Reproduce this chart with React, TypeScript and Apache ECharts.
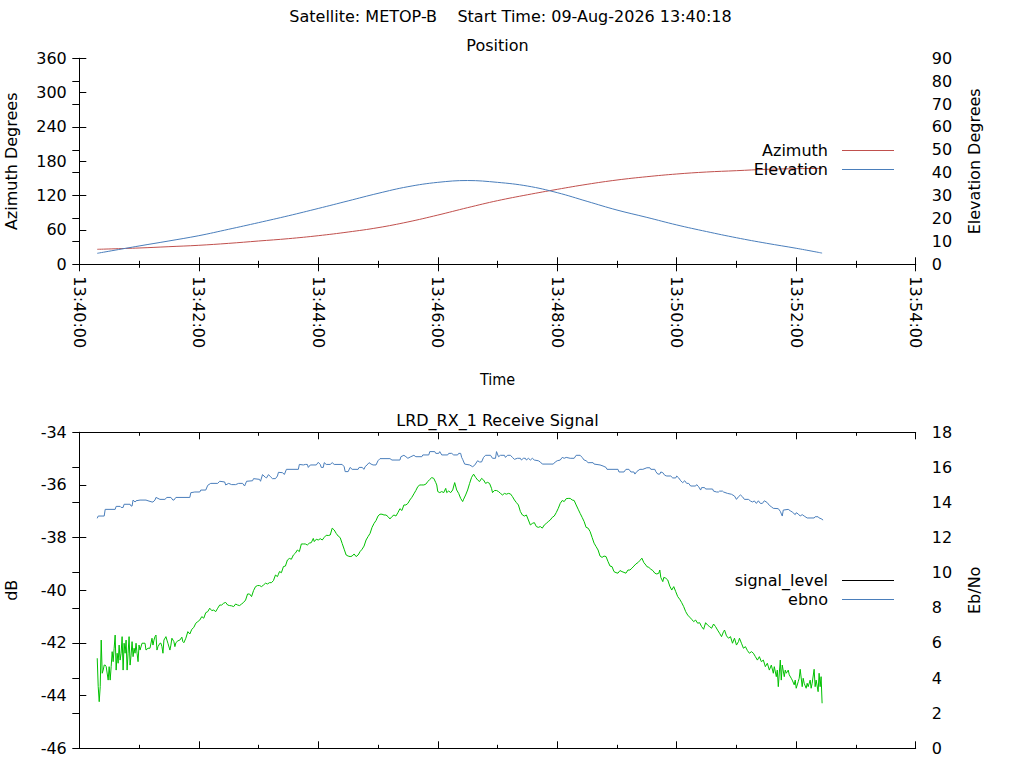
import React, { useEffect, useRef } from "react";
import * as echarts from "echarts";

// ---- Header / labels ----
const mainTitle = "Satellite: METOP-B    Start Time: 09-Aug-2026 13:40:18";
const positionTitle = "Position";
const signalTitle = "LRD_RX_1 Receive Signal";
const baseTimeSec = 13 * 3600 + 40 * 60; // 13:40:00, x axis origin

// ---- Position (seconds after 13:40:00) ----
const posTimes = [18, 60, 90, 120, 150, 180, 210, 240, 270, 300, 330, 360, 390, 420, 450, 480, 510, 540, 570, 600, 630, 660, 690, 720, 746];
const azimuth = [26.2, 28.5, 30.8, 33.2, 36.6, 40.7, 44.8, 50.0, 56.4, 64.0, 74.0, 86.0, 99.0, 111.2, 121.5, 131.0, 139.8, 147.3, 153.1, 157.8, 161.3, 163.6, 166.0, 167.1, 167.7];
const elevation = [4.8, 8.0, 10.2, 12.5, 15.3, 18.2, 21.2, 24.4, 27.7, 31.0, 33.9, 35.8, 36.6, 35.8, 34.2, 31.3, 27.5, 23.7, 20.5, 17.2, 14.3, 11.6, 9.2, 7.0, 4.9];

// ---- Receive signal: signal_level (dB) ----
const sigTimes = [
  18, 19, 20, 21, 22, 23, 24, 25, 26, 27, 29, 30, 31, 32, 33, 34, 35, 36, 37, 38, 39, 40, 41, 42, 43, 44, 45, 46, 47, 48, 49, 50,
  51, 52, 53, 54, 55, 56, 57, 58, 59, 60, 61, 63, 66, 67, 69, 71, 73, 74, 75, 76, 77, 78, 79, 81, 82, 83, 84, 85, 87, 88, 89, 91,
  92, 93, 95, 96, 97, 99, 101, 103, 104, 105, 107, 109, 111, 113, 115, 117, 119, 121, 123, 125, 127, 129, 131, 133, 135, 137, 139,
  141, 143, 145, 147, 149, 151, 153, 155, 157, 159, 161, 163, 165, 167, 169, 171, 173, 175, 177, 179, 181, 183, 185, 187, 189, 191,
  193, 195, 197, 199, 200, 201, 203, 205, 207, 209, 211, 213, 215, 217, 219, 221, 223, 225, 227, 229, 231, 233, 235, 236, 238, 240,
  242, 244, 246, 248, 250, 252, 254, 256, 258, 260, 262, 264, 266, 268, 270, 272, 274, 276, 278, 280, 282, 284, 286, 288, 290, 292,
  294, 296, 298, 300, 302, 304, 306, 308, 310, 312, 314, 316, 318, 320, 322, 324, 326, 328, 330, 332, 334, 336, 338, 340, 342, 344,
  346, 348, 350, 352, 354, 356, 358, 359, 360, 362, 364, 366, 368, 369, 371, 373, 375, 377, 379, 381, 383, 385, 386, 388, 390, 392,
  394, 396, 398, 400, 402, 404, 406, 408, 410, 412, 414, 415, 417, 419, 421, 423, 425, 427, 429, 431, 433, 435, 437, 439, 441, 443,
  445, 447, 449, 451, 453, 455, 457, 459, 461, 463, 465, 467, 469, 471, 473, 475, 477, 479, 481, 483, 485, 487, 489, 491, 493, 495,
  497, 499, 501, 503, 505, 507, 509, 511, 513, 515, 517, 519, 521, 523, 525, 527, 529, 531, 533, 535, 537, 539, 541, 543, 545, 547,
  549, 551, 553, 555, 557, 559, 561, 563, 565, 567, 569, 570, 572, 574, 576, 578, 580, 582, 583, 584, 586, 587, 589, 591, 593, 595,
  597, 599, 601, 603, 605, 607, 609, 611, 613, 615, 617, 619, 621, 623, 625, 627, 629, 631, 633, 635, 637, 639, 641, 643, 645, 647,
  648, 650, 652, 654, 656, 658, 660, 662, 663, 665, 667, 669, 671, 673, 675, 677, 679, 681, 683, 685, 687, 689, 691, 693, 695, 697,
  698, 700, 701, 702, 704, 705, 706, 708, 709, 710, 712, 713, 715, 716, 718, 719, 720, 722, 723, 724, 726, 727, 728, 730, 731, 732,
  734, 735, 736, 738, 739, 740, 742, 743, 744, 745, 746,
];
const signalLevel = [
  -42.58, -43.66, -44.23, -43.66, -41.89, -43.15, -43.03, -42.84, -42.84, -42.9, -43.41, -42.9, -43.41, -42.9, -42.33, -42.71, -42.2, -41.7, -43.03, -42.39, -42.77, -42.08, -42.65, -42.39, -41.76, -43.03, -42.01, -42.39, -41.89, -43.03, -42.39, -41.76,
  -42.84, -42.46, -41.95, -42.52, -42.2, -42.39, -42.01, -42.39, -42.71, -42.08, -42.27, -42.01, -42.01, -42.27, -42.2, -42.2, -41.82, -42.08, -41.89, -41.76, -41.7, -42.27, -42.14, -42.01, -42.01, -42.14, -42.39, -41.89, -41.76, -41.89, -42.01, -42.27,
  -42.08, -41.82, -41.95, -42.14, -41.99, -41.92, -41.89, -41.78, -41.95, -41.99, -41.82, -41.57, -41.66, -41.48, -41.41, -41.25, -41.19, -41.13, -41.0, -41.06, -40.85, -40.81, -40.68, -40.77, -40.75, -40.81, -40.68,
  -40.56, -40.56, -40.49, -40.46, -40.56, -40.58, -40.59, -40.62, -40.52, -40.56, -40.58, -40.52, -40.46, -40.37, -40.14, -40.14, -40.24, -40.01, -39.86, -39.82, -39.82, -39.86, -39.8, -39.73, -39.76, -39.71,
  -39.71, -39.63, -39.42, -39.48, -39.39, -39.29, -39.33, -39.1, -39.08, -38.85, -38.79, -38.82, -38.66, -38.59, -38.47, -38.53, -38.24, -38.24, -38.24, -38.28, -38.21, -38.19, -38.03, -38.15, -38.06, -38.09,
  -38.04, -38.09, -37.99, -37.91, -37.92, -37.9, -37.64, -37.71, -37.84, -37.94, -38.0, -38.22, -38.44, -38.66, -38.7, -38.72, -38.7, -38.62, -38.72, -38.66, -38.53, -38.44, -38.32, -38.09, -37.96, -37.84,
  -37.61, -37.46, -37.35, -37.18, -37.11, -37.11, -37.14, -37.14, -37.2, -37.29, -37.2, -37.14, -37.18, -37.05, -36.9, -36.97, -36.76, -36.76, -36.7, -36.57, -36.47, -36.34, -36.21, -36.06, -36.0, -36.0,
  -36.0, -35.97, -35.87, -35.79, -35.72, -35.75, -35.91, -36.0, -36.25, -36.29, -36.25, -36.29, -36.13, -36.29, -36.23, -36.29, -36.19, -35.91, -36.19, -36.32, -36.51, -36.63, -36.54, -36.38, -36.19, -35.94,
  -35.71, -35.59, -35.71, -35.81, -35.87, -35.75, -35.81, -35.94, -35.9, -35.94, -36.13, -36.29, -36.21, -36.21, -36.25, -36.32, -36.38, -36.32, -36.35, -36.32, -36.34, -36.44, -36.57, -36.67, -36.76, -37.01,
  -37.14, -37.18, -37.14, -37.33, -37.52, -37.46, -37.43, -37.58, -37.61, -37.58, -37.64, -37.52, -37.46, -37.39, -37.33, -37.23, -37.18, -37.05, -36.89, -36.7, -36.59, -36.63, -36.52, -36.51, -36.51, -36.57,
  -36.59, -36.76, -36.92, -37.08, -37.23, -37.39, -37.61, -37.64, -37.77, -37.99, -38.21, -38.34, -38.47, -38.7, -38.75, -38.7, -38.72, -38.91, -39.08, -39.1, -39.29, -39.33, -39.35, -39.25, -39.29, -39.32,
  -39.35, -39.23, -39.23, -39.16, -39.08, -39.0, -38.95, -38.87, -38.78, -38.95, -39.04, -39.1, -39.13, -39.2, -39.25, -39.35, -39.38, -39.35, -39.23, -39.51, -39.67, -39.51, -39.54, -39.61, -39.84, -39.99,
  -39.86, -40.05, -40.24, -40.34, -40.47, -40.62, -40.81, -40.94, -41.02, -41.1, -41.19, -41.13, -41.25, -41.23, -41.38, -41.48, -41.23, -41.32, -41.38, -41.44, -41.28, -41.38, -41.51, -41.63, -41.76, -41.57,
  -41.51, -41.73, -41.82, -41.76, -42.01, -41.82, -42.08, -41.95, -41.82, -42.01, -42.2, -42.14, -42.29, -42.39, -42.33, -42.39, -42.52, -42.65, -42.52, -42.71, -42.65, -42.9, -42.77, -43.03, -42.84, -43.15,
  -42.9, -43.28, -43.03, -43.66, -42.65, -43.41, -42.84, -43.28, -43.03, -43.15, -43.03, -43.21, -43.34, -43.41, -43.59, -43.41, -43.72, -43.47, -43.34, -43.0, -43.66, -43.34, -43.53, -43.72, -43.53, -43.66,
  -43.41, -43.72, -43.53, -43.0, -43.66, -43.41, -43.85, -43.15, -43.66, -43.28, -44.29,
];

// ---- Receive signal: ebno ----
const ebnoTimes = [
  18, 19, 25, 26, 36, 37, 41, 42, 44, 45, 51, 52, 53, 54, 56, 57, 61, 67, 69, 73, 74, 76, 77, 81, 86, 88, 92, 94, 95, 97, 111, 112,
  116, 121, 122, 127, 129, 132, 139, 141, 146, 147, 150, 153, 157, 160, 164, 166, 168, 174, 175, 181, 182, 184, 187, 188, 190, 192,
  194, 197, 199, 200, 204, 206, 208, 220, 221, 225, 227, 229, 230, 232, 238, 240, 242, 243, 245, 246, 248, 252, 254, 256, 264, 266,
  267, 270, 272, 274, 280, 281, 284, 286, 287, 289, 291, 293, 295, 298, 300, 302, 312, 314, 322, 323, 326, 328, 330, 333, 336, 338,
  344, 345, 351, 352, 357, 358, 361, 362, 364, 370, 371, 374, 376, 380, 381, 383, 384, 385, 387, 392, 395, 397, 400, 402, 404, 406,
  408, 413, 415, 418, 419, 421, 423, 427, 428, 430, 433, 435, 437, 440, 443, 444, 446, 448, 449, 451, 453, 455, 457, 461, 463, 465,
  476, 478, 480, 483, 485, 487, 489, 493, 497, 499, 503, 505, 507, 509, 511, 516, 517, 523, 526, 529, 530, 541, 542, 547, 549, 552,
  554, 557, 558, 560, 563, 566, 570, 573, 574, 578, 579, 581, 583, 584, 586, 588, 590, 594, 596, 599, 600, 602, 604, 606, 608, 610,
  612, 614, 619, 620, 622, 624, 625, 628, 629, 636, 637, 640, 642, 643, 646, 647, 651, 655, 658, 660, 662, 664, 666, 668, 672, 674,
  676, 678, 680, 682, 684, 686, 688, 691, 693, 695, 697, 702, 704, 706, 707, 712, 714, 716, 719, 720, 722, 724, 726, 728, 731, 738,
  739, 742, 743, 745, 747,
];
const ebno = [
  13.1, 13.23, 13.23, 13.61, 13.61, 13.78, 13.78, 13.72, 13.72, 13.9, 13.9, 13.8, 13.8, 14.14, 14.03, 14.1, 14.14, 14.14, 14.1, 14.03, 14.03, 14.14, 14.29, 14.18, 14.18, 14.29, 14.29, 14.14, 14.14, 14.29, 14.29, 14.56,
  14.6, 14.6, 14.71, 14.71, 14.98, 15.09, 15.09, 15.21, 15.17, 15.0, 15.09, 15.02, 15.02, 15.09, 15.09, 14.94, 15.21, 15.24, 15.36, 15.32, 15.21, 15.59, 15.43, 15.4, 15.59, 15.47,
  15.36, 15.36, 15.51, 15.72, 15.7, 15.6, 15.89, 15.89, 16.17, 16.14, 16.17, 16.17, 16.0, 16.14, 16.14, 16.29, 16.17, 16.0, 16.0, 16.27, 16.17, 16.17, 16.27, 16.17, 16.17, 16.04,
  15.76, 15.76, 16.0, 15.89, 15.89, 16.0, 16.0, 15.89, 16.04, 16.14, 16.27, 16.19, 16.14, 16.14, 16.38, 16.5, 16.5, 16.42, 16.42, 16.61, 16.69, 16.61, 16.52, 16.61, 16.69, 16.61,
  16.61, 16.71, 16.71, 16.9, 16.9, 16.8, 16.8, 16.9, 16.71, 16.71, 16.8, 16.8, 16.71, 16.71, 16.8, 16.8, 16.57, 16.46, 16.19, 16.14, 16.04, 16.12, 16.38, 16.31, 16.31, 16.57,
  16.69, 16.69, 16.52, 16.52, 16.9, 16.61, 16.69, 16.69, 16.57, 16.69, 16.69, 16.57, 16.46, 16.52, 16.52, 16.42, 16.52, 16.52, 16.42, 16.52, 16.42, 16.52, 16.42, 16.38, 16.31, 16.19,
  16.19, 16.31, 16.38, 16.42, 16.57, 16.52, 16.57, 16.52, 16.52, 16.69, 16.69, 16.57, 16.42, 16.38, 16.27, 16.27, 16.19, 16.14, 16.08, 16.0, 15.89, 15.89, 15.74, 15.74, 15.89, 15.89,
  15.74, 15.74, 15.62, 15.77, 15.89, 15.89, 15.98, 15.98, 15.89, 15.89, 15.76, 15.62, 15.62, 15.74, 15.7, 15.55, 15.51, 15.51, 15.4, 15.4, 15.51, 15.4, 15.24, 15.13, 15.24, 15.09,
  15.09, 14.94, 14.94, 15.02, 14.9, 14.71, 14.85, 14.85, 14.77, 14.77, 14.65, 14.6, 14.6, 14.65, 14.65, 14.6, 14.52, 14.47, 14.37, 14.18, 14.33, 14.43, 14.33, 14.18, 14.18, 14.09,
  14.03, 14.09, 13.95, 14.1, 13.95, 13.95, 14.1, 13.99, 13.84, 13.76, 13.67, 13.65, 13.5, 13.23, 13.57, 13.61, 13.53, 13.46, 13.31, 13.42, 13.35, 13.23, 13.31, 13.23, 13.12, 13.12,
  13.19, 13.19, 13.12, 13.08, 13.0,
];

const FONT = "'DejaVu Sans', 'Noto Sans', sans-serif";
const FS = 16;

function pair(ts: number[], vs: number[]) {
  return ts.map((t, i) => [t, vs[i]]);
}

function fmtTime(v: number) {
  const s = baseTimeSec + Math.round(v);
  const hh = Math.floor(s / 3600);
  const mm = Math.floor((s % 3600) / 60);
  const ss = s % 60;
  const p = (n: number) => String(n).padStart(2, "0");
  return `${p(hh)}:${p(mm)}:${p(ss)}`;
}

const axisLine = { show: true, lineStyle: { color: "#000", width: 1 } };
const tick = { show: true, inside: true, length: 7, lineStyle: { color: "#000", width: 1 } };
const minorTick = { show: true, splitNumber: 2, length: 3.5, lineStyle: { color: "#000", width: 1 } };

function timeAxis(gridIndex: number, position: "top" | "bottom", labels: boolean, name?: string) {
  return {
    type: "value",
    gridIndex,
    position,
    min: 0,
    max: 840,
    interval: 120,
    axisLine,
    axisTick: tick,
    minorTick,
    splitLine: { show: false },
    minorSplitLine: { show: false },
    axisLabel: labels
      ? { show: true, rotate: -90, margin: 12, formatter: fmtTime, color: "#000", fontFamily: FONT, fontSize: FS }
      : { show: false },
    name: name || "",
    nameLocation: "middle",
    nameGap: 107,
    nameTextStyle: { color: "#000", fontFamily: "'Liberation Sans Narrow', 'DejaVu Sans Condensed', " + FONT, fontSize: 16 },
  };
}

function valueAxis(gridIndex: number, position: "left" | "right", min: number, max: number, interval: number, name: string) {
  return {
    type: "value",
    gridIndex,
    position,
    min,
    max,
    interval,
    axisLine,
    axisTick: tick,
    splitLine: { show: false },
    axisLabel: { show: true, margin: position === "left" ? 12.5 : 16, color: "#000", fontFamily: FONT, fontSize: FS },
    name,
    nameLocation: "middle",
    nameRotate: 90,
    nameGap: position === "left" ? 60 : 51,
    nameTextStyle: { color: "#000", fontFamily: FONT, fontSize: FS },
  };
}

export default function App() {
  const ref = useRef<HTMLDivElement>(null);
  useEffect(() => {
    if (!ref.current) return;
    const chart = echarts.init(ref.current, undefined, { renderer: "svg" });
    const legendText = { color: "#000", fontFamily: FONT, fontSize: FS, lineHeight: 19, padding: [0, 9, 0, 0] };
    const titleStyle = { color: "#000", fontFamily: FONT, fontSize: FS, fontWeight: "normal" };
    chart.setOption({
      animation: false,
      backgroundColor: "#fff",
      textStyle: { fontFamily: FONT },
      title: [
        { text: mainTitle, left: 510.5, top: 8.5, textAlign: "center", padding: 0, textStyle: titleStyle },
        { text: positionTitle, left: 497.5, top: 37.5, textAlign: "center", padding: 0, textStyle: titleStyle },
        { text: signalTitle, left: 497.5, top: 412, textAlign: "center", padding: 0, textStyle: titleStyle },
      ],
      legend: [
        {
          orient: "vertical",
          right: 130,
          top: 141,
          align: "right",
          icon: "rect",
          itemWidth: 52,
          itemHeight: 1,
          itemGap: 0,
          padding: 0,
          selectedMode: false,
          textStyle: legendText,
          data: ["Azimuth", "Elevation"],
        },
        {
          orient: "vertical",
          right: 130,
          top: 571,
          align: "right",
          icon: "rect",
          itemWidth: 52,
          itemHeight: 1,
          itemGap: 0,
          padding: 0,
          selectedMode: false,
          textStyle: legendText,
          data: [{ name: "signal_level", itemStyle: { color: "#000000" } }, "ebno"],
        },
      ],
      grid: [
        { left: 79.3, right: 108.3, top: 58.3, height: 206, containLabel: false, outerBoundsMode: "none" },
        { left: 79.3, right: 108.3, top: 432.3, height: 316, containLabel: false, outerBoundsMode: "none" },
      ],
      xAxis: [
        timeAxis(0, "bottom", true, "Time"),
        timeAxis(0, "top", false),
        timeAxis(1, "bottom", false),
        timeAxis(1, "top", false),
      ],
      yAxis: [
        valueAxis(0, "left", 0, 360, 60, "Azimuth Degrees"),
        valueAxis(0, "right", 0, 90, 10, "Elevation Degrees"),
        valueAxis(1, "left", -46, -34, 2, "dB"),
        valueAxis(1, "right", 0, 18, 2, "Eb/No"),
      ],
      series: [
        {
          name: "Azimuth",
          type: "line",
          xAxisIndex: 0,
          yAxisIndex: 0,
          data: pair(posTimes, azimuth),
          smooth: 0.4,
          showSymbol: false,
          itemStyle: { color: "#c0504d" },
          lineStyle: { color: "#c0504d", width: 1 },
        },
        {
          name: "Elevation",
          type: "line",
          xAxisIndex: 0,
          yAxisIndex: 1,
          data: pair(posTimes, elevation),
          smooth: 0.4,
          showSymbol: false,
          itemStyle: { color: "#4a7ebb" },
          lineStyle: { color: "#4a7ebb", width: 1 },
        },
        {
          name: "signal_level",
          type: "line",
          xAxisIndex: 2,
          yAxisIndex: 2,
          data: pair(sigTimes, signalLevel),
          showSymbol: false,
          itemStyle: { color: "#00c000" },
          lineStyle: { color: "#00c000", width: 1 },
        },
        {
          name: "ebno",
          type: "line",
          xAxisIndex: 2,
          yAxisIndex: 3,
          data: pair(ebnoTimes, ebno),
          showSymbol: false,
          itemStyle: { color: "#4a7ebb" },
          lineStyle: { color: "#4a7ebb", width: 1 },
        },
      ],
    });
    return () => chart.dispose();
  }, []);
  return <div ref={ref} style={{ position: "fixed", left: 0, top: 0, width: 1024, height: 768, background: "#fff" }} />;
}
